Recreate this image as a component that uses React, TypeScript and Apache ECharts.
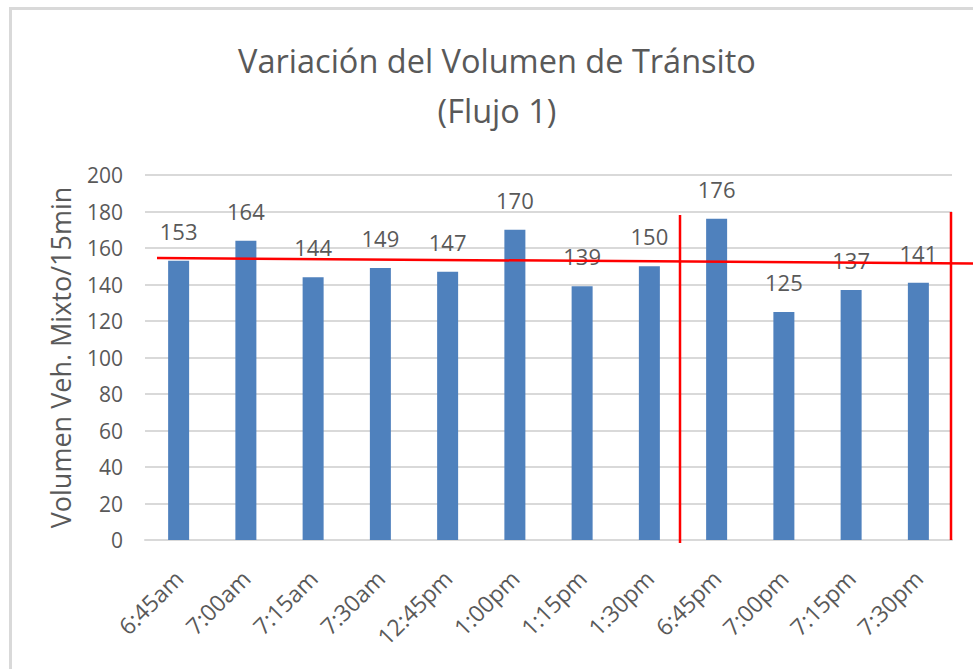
import React, { useEffect, useRef } from "react";
import * as echarts from "echarts";

const categories = ["6:45am", "7:00am", "7:15am", "7:30am", "12:45pm", "1:00pm", "1:15pm", "1:30pm", "6:45pm", "7:00pm", "7:15pm", "7:30pm"];
const volumes = [153, 164, 144, 149, 147, 170, 139, 150, 176, 125, 137, 141];
const titleText = "Variación del Volumen de Tránsito\n(Flujo 1)";
const yAxisName = "Volumen Veh. Mixto/15min";

const FONT = "'Open Sans', 'Noto Sans', sans-serif";
const GRAY = "#595959";

export default function App() {
  const ref = useRef<HTMLDivElement>(null);
  useEffect(() => {
    if (!ref.current) return;
    const chart = echarts.init(ref.current, null, { renderer: "svg" });
    chart.setOption({
      animation: false,
      backgroundColor: "#ffffff",
      title: {
        text: titleText,
        left: 492,
        top: 30,
        textAlign: "center",
        textStyle: { fontFamily: FONT, fontSize: 32.5, fontWeight: "normal", color: GRAY, lineHeight: 50 },
      },
      grid: { left: 145, right: 21, top: 175, bottom: 129, containLabel: false },
      xAxis: {
        type: "category",
        data: categories,
        axisLine: { lineStyle: { color: "#D9D9D9", width: 2 } },
        axisTick: { show: false },
        axisLabel: { rotate: 45, fontFamily: FONT, fontSize: 23, color: GRAY, margin: 34, interval: 0 },
      },
      yAxis: {
        type: "value",
        min: 0,
        max: 200,
        interval: 20,
        name: yAxisName,
        nameLocation: "middle",
        nameRotate: 90,
        nameGap: 71,
        nameTextStyle: { fontFamily: FONT, fontSize: 27, color: GRAY },
        axisLine: { show: false },
        axisTick: { show: false },
        axisLabel: { fontFamily: FONT, fontSize: 21, color: GRAY, margin: 22 },
        splitLine: { lineStyle: { color: "#D9D9D9", width: 2 } },
      },
      series: [
        {
          type: "bar",
          data: volumes,
          barWidth: 21,
          itemStyle: { color: "#4F81BD" },
          label: { show: true, position: "top", distance: 19, fontFamily: FONT, fontSize: 22, color: GRAY },
        },
      ],
      graphic: [
        { type: "rect", shape: { x: 9, y: 7, width: 964, height: 3 }, style: { fill: "#D9D9D9" }, silent: true },
        { type: "rect", shape: { x: 9, y: 7, width: 3, height: 662 }, style: { fill: "#D9D9D9" }, silent: true },
        { type: "line", shape: { x1: 157, y1: 258, x2: 973, y2: 263.5 }, style: { stroke: "#FF0000", lineWidth: 2.5 }, z: 100 },
        { type: "line", shape: { x1: 680, y1: 215, x2: 680, y2: 543 }, style: { stroke: "#FF0000", lineWidth: 2.5 }, z: 100 },
        { type: "line", shape: { x1: 951, y1: 212, x2: 951, y2: 540 }, style: { stroke: "#FF0000", lineWidth: 2.5 }, z: 100 },
      ],
    });
    return () => chart.dispose();
  }, []);
  return <div ref={ref} style={{ position: "fixed", left: 0, top: 0, width: 973, height: 669 }} />;
}
